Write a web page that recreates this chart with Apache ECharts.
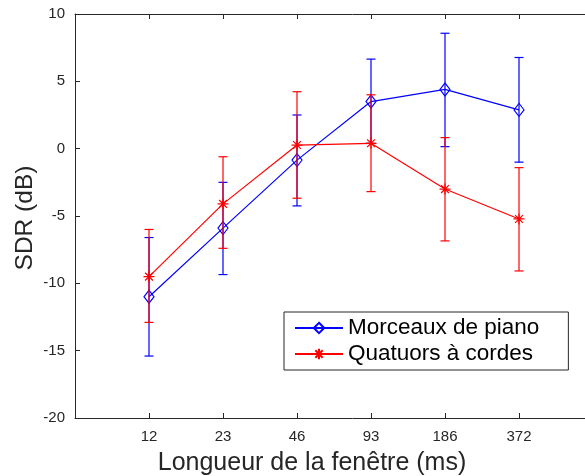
<!DOCTYPE html>
<html>
<head>
<meta charset="utf-8">
<script src="https://cdn.jsdelivr.net/npm/echarts@6/dist/echarts.min.js"></script>
<style>
html,body{margin:0;padding:0;background:#fff;overflow:hidden;width:585px;height:476px;}
#wrap{position:relative;width:585px;height:476px;overflow:hidden;}
#c{position:absolute;left:0;top:0;width:660px;height:476px;}
</style>
</head>
<body>
<div id="wrap"><div id="c"></div></div>
<script>
const categories = ['12', '23', '46', '93', '186', '372'];
const pianoMean = [-11.0, -5.9, -0.85, 3.5, 4.4, 2.88];
const pianoLow  = [-15.4, -9.35, -4.25, 0.4, 0.15, -1.0];
const pianoHigh = [-6.6, -2.5, 2.5, 6.65, 8.57, 6.77];
const quatMean  = [-9.5, -4.1, 0.27, 0.4, -3.0, -5.22];
const quatLow   = [-12.9, -7.4, -3.68, -3.19, -6.85, -9.08];
const quatHigh  = [-6.0, -0.6, 4.23, 4.0, 0.82, -1.41];
const seriesNames = ['Morceaux de piano', 'Quatuors à cordes'];
const yTitle = 'SDR (dB)';
const xTitle = 'Longueur de la fenêtre (ms)';
const tickPositions = [1, 2, 3, 4, 5, 6];

const FONT = '"Liberation Sans", Arial, Helvetica, sans-serif';
const AX = '#262626';
const BLUE = '#0000ff';
const RED = '#ff0000';
const ASTERISK = 'path://M5,0L5,10M0,5L10,5M1.46,1.46L8.54,8.54M1.46,8.54L8.54,1.46';
const X_MAX = 7.5;

function lineData(means) { return means.map((v, i) => [i + 1, v]); }
function errData(lo, hi) { return lo.map((v, i) => [i + 1, v, hi[i]]); }

function errSeries(lo, hi, color, z) {
  return {
    type: 'custom',
    xAxisIndex: 0, yAxisIndex: 0,
    z: z,
    silent: true,
    clip: false,
    data: errData(lo, hi),
    renderItem: function (params, api) {
      const x = api.value(0);
      const pLo = api.coord([x, api.value(1)]);
      const pHi = api.coord([x, api.value(2)]);
      const w = 4.5;
      const st = { stroke: color, lineWidth: 1.2 };
      return {
        type: 'group',
        children: [
          { type: 'line', shape: { x1: pLo[0], y1: pLo[1], x2: pHi[0], y2: pHi[1] }, style: st },
          { type: 'line', shape: { x1: pLo[0] - w, y1: pLo[1], x2: pLo[0] + w, y2: pLo[1] }, style: st },
          { type: 'line', shape: { x1: pHi[0] - w, y1: pHi[1], x2: pHi[0] + w, y2: pHi[1] }, style: st }
        ]
      };
    }
  };
}

const chart = echarts.init(document.getElementById('c'), null, { renderer: 'canvas' });
chart.setOption({
  animation: false,
  backgroundColor: '#ffffff',
  textStyle: { fontFamily: FONT },
  // plot spans x 75..630 (7.5 units at 74 px each), right part lies beyond the 585 px window
  grid: { show: false, borderWidth: 0, left: 75, top: 14, right: 30, bottom: 58, containLabel: false },
  xAxis: [{
    type: 'value', min: 0, max: X_MAX, position: 'bottom',
    axisLine: { show: true, onZero: false, lineStyle: { color: AX, width: 1 } },
    axisTick: { show: true, inside: true, length: 5, lineStyle: { color: AX }, customValues: tickPositions },
    splitLine: { show: false },
    axisLabel: {
      color: AX, fontSize: 15, fontFamily: FONT, margin: 11,
      customValues: tickPositions,
      formatter: function (v) { return categories[Math.round(v) - 1] || ''; }
    }
  }, {
    type: 'value', min: 0, max: X_MAX, position: 'top',
    axisLine: { show: true, onZero: false, lineStyle: { color: AX, width: 1 } },
    axisTick: { show: true, inside: true, length: 5, lineStyle: { color: AX }, customValues: tickPositions },
    splitLine: { show: false },
    axisLabel: { show: false }
  }],
  yAxis: [{
    type: 'value', min: -20, max: 10, interval: 5,
    axisLine: { show: true, onZero: false, lineStyle: { color: AX, width: 1 } },
    axisTick: { show: true, inside: true, length: 5, lineStyle: { color: AX } },
    splitLine: { show: false },
    axisLabel: { color: AX, fontSize: 15, fontFamily: FONT, margin: 10 }
  }],
  legend: {
    orient: 'vertical', left: 284, top: 312,
    padding: [4, 29, 4, 10],
    itemGap: 2, itemWidth: 48, itemHeight: 13,
    borderColor: AX, borderWidth: 1, backgroundColor: '#ffffff',
    textStyle: { color: '#000', fontSize: 22.5, fontFamily: FONT, lineHeight: 24 },
    selectedMode: false,
    data: seriesNames
  },
  graphic: [{
    type: 'text',
    style: { text: xTitle, fill: AX, fontSize: 25, fontFamily: FONT, x: 312, y: 463, align: 'center', verticalAlign: 'middle' }
  }, {
    type: 'text', x: 25, y: 218, rotation: Math.PI / 2,
    style: { text: yTitle, fill: AX, fontSize: 24.5, fontFamily: FONT, x: 0, y: 0, align: 'center', verticalAlign: 'middle' }
  }],
  series: [
    errSeries(pianoLow, pianoHigh, BLUE, 2),
    {
      name: seriesNames[0], type: 'line', z: 3, data: lineData(pianoMean),
      symbol: 'diamond', symbolSize: [10, 13], showAllSymbol: true,
      lineStyle: { color: BLUE, width: 1.2 },
      itemStyle: { color: 'none', borderColor: BLUE, borderWidth: 1.2 },
      emphasis: { disabled: true }
    },
    errSeries(quatLow, quatHigh, RED, 4),
    {
      name: seriesNames[1], type: 'line', z: 5, data: lineData(quatMean),
      symbol: ASTERISK, symbolSize: 11, showAllSymbol: true,
      lineStyle: { color: RED, width: 1.2 },
      itemStyle: { color: 'none', borderColor: RED, borderWidth: 1.2 },
      emphasis: { disabled: true }
    }
  ]
});
</script>
</body>
</html>
